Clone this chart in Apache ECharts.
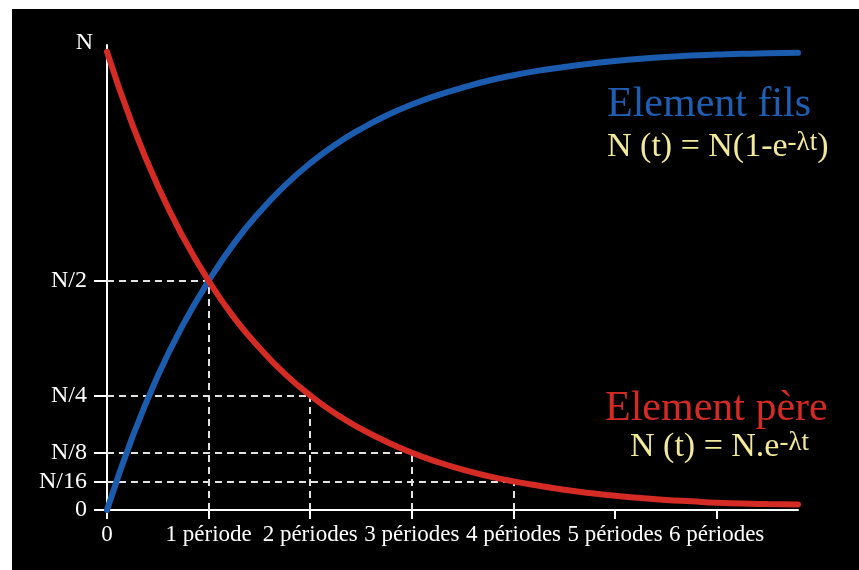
<!DOCTYPE html>
<html>
<head>
<meta charset="utf-8">
<script src="https://cdn.jsdelivr.net/npm/echarts@6/dist/echarts.min.js"></script>
<style>
  html, body { margin: 0; padding: 0; background: #ffffff; }
  #chart { position: absolute; left: 12px; top: 9px; width: 847px; height: 561px; background: #000000; }
</style>
</head>
<body>
<div id="chart"></div>
<script>
// Time, in half-life periods
const periods = [0, 0.25, 0.5, 0.75, 1, 1.25, 1.5, 1.75, 2, 2.25, 2.5, 2.75, 3, 3.25, 3.5, 3.75,
  4, 4.25, 4.5, 4.75, 5, 5.25, 5.5, 5.75, 6, 6.25, 6.5, 6.8];
// Parent element remaining (fraction of N)
const parentValues = [1, 0.841, 0.707, 0.595, 0.5, 0.42, 0.354, 0.297, 0.25, 0.21, 0.177, 0.149, 0.125,
  0.105, 0.088, 0.074, 0.0625, 0.053, 0.044, 0.037, 0.031, 0.026, 0.022, 0.019, 0.016, 0.014, 0.013, 0.012];
// Daughter element formed (fraction of N)
const daughterValues = [0, 0.159, 0.293, 0.405, 0.5, 0.582, 0.65, 0.708, 0.757, 0.798, 0.832, 0.861, 0.885,
  0.905, 0.922, 0.937, 0.949, 0.959, 0.967, 0.974, 0.98, 0.985, 0.989, 0.992, 0.994, 0.996, 0.997, 0.998];

// Half-life markers: period index and remaining fraction
const halfLifePeriods = [1, 2, 3, 4];
const halfLifeLevels = [0.5, 0.25, 0.125, 0.0625];

const xTickValues = [0, 1, 2, 3, 4, 5, 6];
const xTickLabels = ['0', '1 période', '2 périodes', '3 périodes', '4 périodes', '5 périodes', '6 périodes'];
const yTickValues = [0, 0.0625, 0.125, 0.25, 0.5];
const yTickLabels = ['0', 'N/16', 'N/8', 'N/4', 'N/2'];

const SERIF = '"Liberation Serif", "DejaVu Serif", serif';

const guideLines = [];
halfLifePeriods.forEach((t, i) => {
  const v = halfLifeLevels[i];
  guideLines.push([{ coord: [0, v] }, { coord: [t, v] }]);
  guideLines.push([{ coord: [t, 0] }, { coord: [t, v] }]);
});

const chart = echarts.init(document.getElementById('chart'));
chart.setOption({
  backgroundColor: '#000000',
  animation: false,
  grid: { left: 95, right: 61, top: 36, bottom: 60 },
  xAxis: {
    type: 'value',
    min: 0,
    max: 6.8,
    interval: 1,
    splitLine: { show: false },
    axisLine: { lineStyle: { color: '#ffffff', width: 2 } },
    axisTick: { customValues: xTickValues, length: 9, lineStyle: { color: '#ffffff', width: 2 } },
    axisLabel: {
      customValues: xTickValues,
      formatter: v => xTickLabels[xTickValues.indexOf(Math.round(v))],
      color: '#ffffff',
      fontFamily: SERIF,
      fontSize: 23,
      margin: 13
    }
  },
  yAxis: {
    type: 'value',
    min: 0,
    max: 1.015,
    name: 'N',
    nameLocation: 'end',
    nameGap: 2,
    nameTextStyle: { color: '#ffffff', fontFamily: SERIF, fontSize: 24, align: 'right', verticalAlign: 'middle', padding: [0, 14, 0, 0] },
    splitLine: { show: false },
    axisLine: { lineStyle: { color: '#ffffff', width: 2 } },
    axisTick: { customValues: yTickValues, length: 13, lineStyle: { color: '#ffffff', width: 2 } },
    axisLabel: {
      customValues: yTickValues,
      formatter: v => yTickLabels[yTickValues.indexOf(v)],
      color: '#ffffff',
      fontFamily: SERIF,
      fontSize: 24,
      margin: 20
    }
  },
  series: [
    {
      name: 'Element fils',
      type: 'line',
      data: periods.map((t, i) => [t, daughterValues[i]]),
      smooth: true,
      showSymbol: false,
      lineStyle: { color: '#1b5cae', width: 6, cap: 'round' },
      z: 3
    },
    {
      name: 'Element père',
      type: 'line',
      data: periods.map((t, i) => [t, parentValues[i]]),
      smooth: true,
      showSymbol: false,
      lineStyle: { color: '#d52b25', width: 6, cap: 'round' },
      z: 4,
      markLine: {
        silent: true,
        symbol: ['none', 'none'],
        label: { show: false },
        lineStyle: { color: '#e2e2e2', width: 2, type: [7, 5] },
        data: guideLines,
        z: 1
      }
    }
  ],
  graphic: [
    {
      type: 'text', left: 595, top: 75,
      style: { text: 'Element fils', fill: '#1f5fb3', font: '42px ' + SERIF }
    },
    {
      type: 'text', left: 595, top: 120,
      style: {
        text: '{b|N (t) = N(1-e}{s|-λt}{b|)}',
        rich: {
          b: { fill: '#f2ea9a', fontFamily: SERIF, fontSize: 34 },
          s: { fill: '#f2ea9a', fontFamily: SERIF, fontSize: 27, verticalAlign: 'top', padding: [0, 0, 10, 0] }
        }
      }
    },
    {
      type: 'text', left: 593, top: 379,
      style: { text: 'Element père', fill: '#d42a26', font: '42px ' + SERIF }
    },
    {
      type: 'text', left: 618, top: 420,
      style: {
        text: '{b|N (t) = N.e}{s|-λt}',
        rich: {
          b: { fill: '#f2ea9a', fontFamily: SERIF, fontSize: 34 },
          s: { fill: '#f2ea9a', fontFamily: SERIF, fontSize: 27, verticalAlign: 'top', padding: [0, 0, 10, 0] }
        }
      }
    }
  ]
});
</script>
</body>
</html>
